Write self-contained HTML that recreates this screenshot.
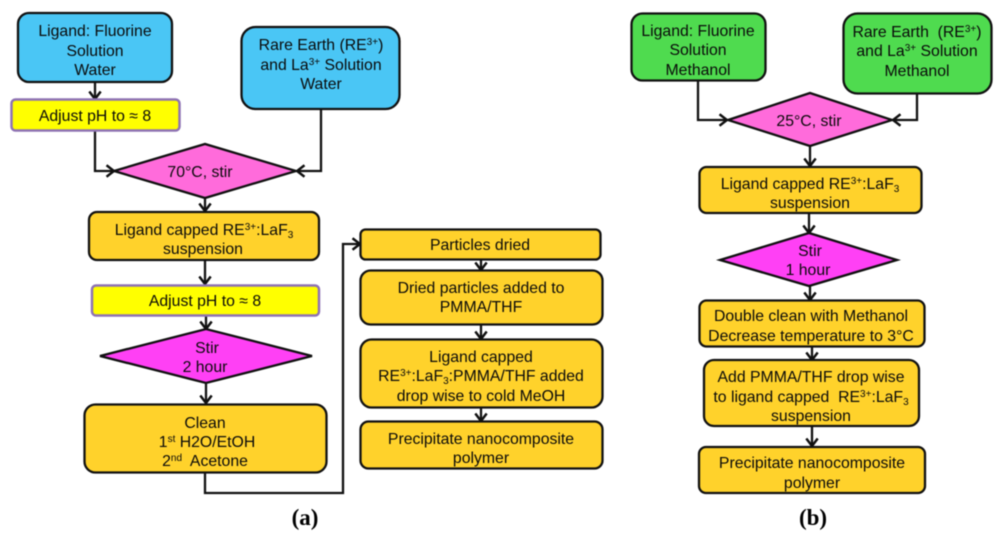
<!DOCTYPE html>
<html><head><meta charset="utf-8"><style>
html,body{margin:0;padding:0;background:#fff;width:1000px;height:536px;overflow:hidden}
svg{display:block;filter:blur(.4px)}
text{font-family:"Liberation Sans",sans-serif;font-size:15.8px;fill:#0a0a0a;text-anchor:middle}
.s{font-size:10px}
.l{font-family:"Liberation Serif",serif;font-size:23px;font-weight:bold;fill:#000}
.b{stroke:#111;stroke-width:2.3}
.bl{fill:#4AC6F5}.gr{fill:#4FDB4F}.or{fill:#FFD22B}.ye{fill:#FFFF00;stroke:#8E72B4;stroke-width:2.5}
.p1{fill:#FF6BDB}.p2{fill:#FF40F5}
.c{fill:none;stroke:#111;stroke-width:2.3}
</style></head><body>
<svg width="1000" height="536" viewBox="0 0 1000 536" xmlns="http://www.w3.org/2000/svg">
<defs><marker id="a" viewBox="0 0 10 14" refX="9" refY="7" markerWidth="10" markerHeight="14" markerUnits="userSpaceOnUse" orient="auto"><path d="M1.500 1.300 9 7 1.500 12.700" fill="none" stroke="#111" stroke-width="2.500"/></marker></defs>

<!-- connectors (a) -->
<path class="c" marker-end="url(#a)" d="M95 82V99"/>
<path class="c" marker-end="url(#a)" d="M95 131V171H114"/>
<path class="c" marker-end="url(#a)" d="M321 109V171H297"/>
<path class="c" marker-end="url(#a)" d="M205 198V211"/>
<path class="c" marker-end="url(#a)" d="M205 260V284"/>
<path class="c" marker-end="url(#a)" d="M206 316V329"/>
<path class="c" marker-end="url(#a)" d="M206 383V403"/>
<path class="c" marker-end="url(#a)" d="M205 473V493H343V244H360"/>
<path class="c" marker-end="url(#a)" d="M481 260V270"/>
<path class="c" marker-end="url(#a)" d="M481 325V339"/>
<path class="c" marker-end="url(#a)" d="M481 408V421"/>
<!-- connectors (b) -->
<path class="c" marker-end="url(#a)" d="M698 80V120H727"/>
<path class="c" marker-end="url(#a)" d="M917 93V120H893"/>
<path class="c" marker-end="url(#a)" d="M810 146V166"/>
<path class="c" marker-end="url(#a)" d="M809 213V233"/>
<path class="c" marker-end="url(#a)" d="M810 286V300"/>
<path class="c" marker-end="url(#a)" d="M812 346V360"/>
<path class="c" marker-end="url(#a)" d="M812 426V446"/>

<!-- shapes (a) -->
<rect class="b bl" x="18" y="13" width="154" height="69" rx="11"/>
<rect class="ye" x="11.500" y="99.500" width="168" height="31" rx="4"/>
<rect class="b bl" x="241.500" y="27" width="158" height="82" rx="14"/>
<path class="b p1" d="M114 171 205 144 296 171 205 198Z"/>
<rect class="b or" x="89" y="212" width="230" height="48" rx="8"/>
<rect class="ye" x="92" y="285.500" width="227" height="30" rx="4"/>
<path class="b p2" d="M100 356 206 329 312 356 206 383Z"/>
<rect class="b or" x="84.500" y="404.500" width="242" height="68" rx="11"/>
<rect class="b or" x="360.500" y="229.500" width="240" height="30" rx="5"/>
<rect class="b or" x="360.500" y="270.500" width="242" height="54" rx="10"/>
<rect class="b or" x="360.500" y="339.500" width="242" height="68" rx="11"/>
<rect class="b or" x="360.500" y="421.500" width="242" height="47" rx="8"/>
<!-- shapes (b) -->
<rect class="b gr" x="631.500" y="13.500" width="134" height="67" rx="11"/>
<rect class="b gr" x="843.500" y="13.500" width="148" height="80" rx="14"/>
<path class="b p1" d="M728 120 810 93 892 120 810 146Z"/>
<rect class="b or" x="699.500" y="167" width="222" height="46" rx="7"/>
<path class="b p2" d="M720 260 809 233 897 260 809 286Z"/>
<rect class="b or" x="699.500" y="300.500" width="225" height="46" rx="7"/>
<rect class="b or" x="704" y="360" width="215" height="66" rx="10"/>
<rect class="b or" x="699" y="447" width="226" height="46" rx="7"/>

<!-- text (a) -->
<text x="95" y="36">Ligand: Fluorine</text>
<text x="95" y="56">Solution</text>
<text x="95" y="75">Water</text>
<text x="95" y="121">Adjust pH to ≈ 8</text>
<text x="321" y="50">Rare Earth (RE<tspan class="s" dy="-5">3+</tspan><tspan dy="5">)</tspan></text>
<text x="321" y="70">and La<tspan class="s" dy="-5">3+</tspan><tspan dy="5"> Solution</tspan></text>
<text x="321" y="89">Water</text>
<text x="200" y="177">70°C, stir</text>
<text x="204" y="235">Ligand capped RE<tspan class="s" dy="-5">3+</tspan><tspan dy="5">:LaF</tspan><tspan class="s" dy="3">3</tspan></text>
<text x="203" y="254">suspension</text>
<text x="205" y="306">Adjust pH to ≈ 8</text>
<text x="207" y="353">Stir</text>
<text x="205" y="372">2 hour</text>
<text x="205" y="428">Clean</text>
<text x="207" y="447">1<tspan class="s" dy="-5">st</tspan><tspan dy="5"> H2O/EtOH</tspan></text>
<text x="205" y="466" xml:space="preserve">2<tspan class="s" dy="-5">nd</tspan><tspan dy="5">  Acetone</tspan></text>
<text x="480" y="250">Particles dried</text>
<text x="481" y="293">Dried particles added to</text>
<text x="481" y="312">PMMA/THF</text>
<text x="481" y="362">Ligand capped</text>
<text x="481" y="381">RE<tspan class="s" dy="-5">3+</tspan><tspan dy="5">:LaF</tspan><tspan class="s" dy="3">3</tspan><tspan dy="-3">:PMMA/THF added</tspan></text>
<text x="481" y="401">drop wise to cold MeOH</text>
<text x="481" y="444">Precipitate nanocomposite</text>
<text x="481" y="463">polymer</text>
<!-- text (b) -->
<text x="698" y="36">Ligand: Fluorine</text>
<text x="698" y="55">Solution</text>
<text x="698" y="75">Methanol</text>
<text x="917" y="37" xml:space="preserve">Rare Earth  (RE<tspan class="s" dy="-5">3+</tspan><tspan dy="5">)</tspan></text>
<text x="917" y="56">and La<tspan class="s" dy="-5">3+</tspan><tspan dy="5"> Solution</tspan></text>
<text x="917" y="76">Methanol</text>
<text x="809" y="126">25°C, stir</text>
<text x="810" y="189">Ligand capped RE<tspan class="s" dy="-5">3+</tspan><tspan dy="5">:LaF</tspan><tspan class="s" dy="3">3</tspan></text>
<text x="810" y="208">suspension</text>
<text x="810" y="256">Stir</text>
<text x="808" y="275">1 hour</text>
<text x="811" y="321">Double clean with Methanol</text>
<text x="811" y="341">Decrease temperature to 3°C</text>
<text x="811" y="382">Add PMMA/THF drop wise</text>
<text x="811" y="402" xml:space="preserve">to ligand capped  RE<tspan class="s" dy="-5">3+</tspan><tspan dy="5">:LaF</tspan><tspan class="s" dy="3">3</tspan></text>
<text x="811" y="421">suspension</text>
<text x="812" y="468">Precipitate nanocomposite</text>
<text x="812" y="488">polymer</text>

<text class="l" x="305" y="525">(a)</text>
<text class="l" x="813" y="525">(b)</text>
</svg>
</body></html>
